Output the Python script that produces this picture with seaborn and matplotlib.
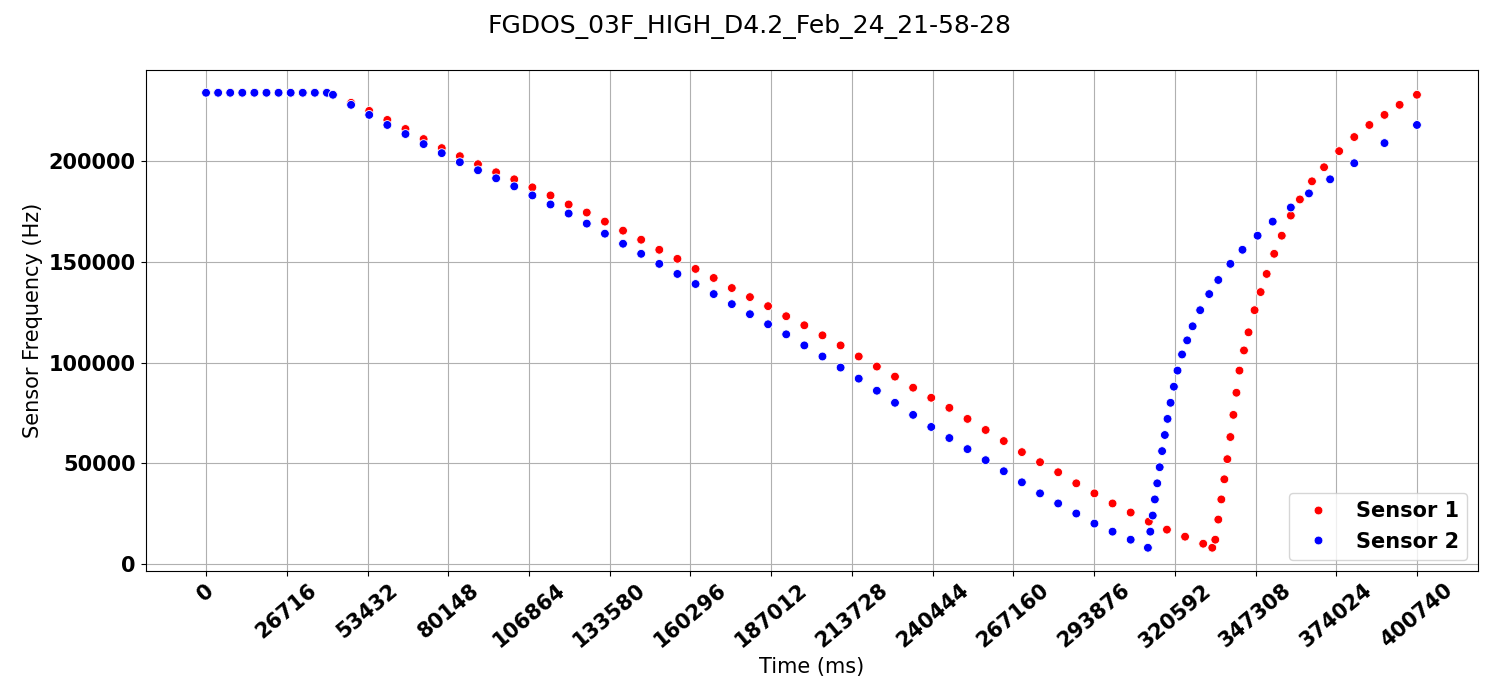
import numpy as np
import pandas as pd
import seaborn as sns
import matplotlib.pyplot as plt

flat_t = [0, 4000, 8000, 12000, 16000, 20000, 24000, 28000, 32000, 36000, 40000]
flat_f = [234000] * len(flat_t)

s1_t = flat_t + [42000, 48000, 54000, 60000, 66000, 72000, 78000, 84000, 90000, 96000,
                 102000, 108000, 114000, 120000, 126000, 132000, 138000, 144000, 150000, 156000,
                 162000, 168000, 174000, 180000, 186000, 192000, 198000, 204000, 210000, 216000,
                 222000, 228000, 234000, 240000, 246000, 252000, 258000, 264000, 270000, 276000,
                 282000, 288000, 294000, 300000, 306000, 312000, 318000, 324000, 330000, 333000,
                 334000, 335000, 336000, 337000, 338000, 339000, 340000, 341000, 342000, 343500,
                 345000, 347000, 349000, 351000, 353500, 356000, 359000, 362000, 366000, 370000,
                 375000, 380000, 385000, 390000, 395000, 400740]
s1_f = flat_f + [233000, 229000, 225000, 220500, 216000, 211000, 206500, 202500, 198500, 194500,
                 191000, 187000, 183000, 178500, 174500, 170000, 165500, 161000, 156000, 151500,
                 146500, 142000, 137000, 132500, 128000, 123000, 118500, 113500, 108500, 103000,
                 98000, 93000, 87500, 82500, 77500, 72000, 66500, 61000, 55500, 50500,
                 45500, 40000, 35000, 30000, 25500, 21000, 17000, 13500, 10000, 8000,
                 12000, 22000, 32000, 42000, 52000, 63000, 74000, 85000, 96000, 106000,
                 115000, 126000, 135000, 144000, 154000, 163000, 173000, 181000, 190000, 197000,
                 205000, 212000, 218000, 223000, 228000, 233000]

s2_t = flat_t + [42000, 48000, 54000, 60000, 66000, 72000, 78000, 84000, 90000, 96000,
                 102000, 108000, 114000, 120000, 126000, 132000, 138000, 144000, 150000, 156000,
                 162000, 168000, 174000, 180000, 186000, 192000, 198000, 204000, 210000, 216000,
                 222000, 228000, 234000, 240000, 246000, 252000, 258000, 264000, 270000, 276000,
                 282000, 288000, 294000, 300000, 306000, 311700,
                 312500, 313300, 314000, 314800, 315600, 316400, 317300, 318200, 319200, 320300,
                 321500, 323000, 324700, 326500, 329000, 332000, 335000, 339000, 343000, 348000,
                 353000, 359000, 365000, 372000, 380000, 390000, 400740]
s2_f = flat_f + [233000, 228000, 223000, 218000, 213500, 208500, 204000, 199500, 195500, 191500,
                 187500, 183000, 178500, 174000, 169000, 164000, 159000, 154000, 149000, 144000,
                 139000, 134000, 129000, 124000, 119000, 114000, 108500, 103000, 97500, 92000,
                 86000, 80000, 74000, 68000, 62500, 57000, 51500, 46000, 40500, 35000,
                 30000, 25000, 20000, 16000, 12000, 8000,
                 16000, 24000, 32000, 40000, 48000, 56000, 64000, 72000, 80000, 88000,
                 96000, 104000, 111000, 118000, 126000, 134000, 141000, 149000, 156000, 163000,
                 170000, 177000, 184000, 191000, 199000, 209000, 218000]

tick_labels = [0, 26716, 53432, 80148, 106864, 133580, 160296, 187012, 213728,
               240444, 267160, 293876, 320592, 347308, 374024, 400740]

df = pd.concat([
    pd.DataFrame({"Time": s1_t, "Freq": s1_f, "Sensor": "Sensor 1"}),
    pd.DataFrame({"Time": s2_t, "Freq": s2_f, "Sensor": "Sensor 2"}),
])

fig, ax = plt.subplots(figsize=(15, 7), dpi=100)
sns.scatterplot(data=df, x="Time", y="Freq", hue="Sensor",
                palette={"Sensor 1": "red", "Sensor 2": "blue"}, s=40,
                edgecolor="white", linewidth=0.6, ax=ax, zorder=3)
ax.grid(True, color="#b0b0b0")
ax.set_axisbelow(True)
ax.set_xticks(tick_labels)
ax.set_xticklabels([str(t) for t in tick_labels], rotation=40, fontsize=15, fontweight="bold")
for lab in ax.get_yticklabels():
    lab.set_fontsize(15)
    lab.set_fontweight("bold")
ax.set_xlabel("Time (ms)", fontsize=15)
ax.set_ylabel("Sensor Frequency (Hz)", fontsize=15)
ax.legend(loc="lower right", prop={"size": 15, "weight": "bold"}, title=None)
fig.suptitle("FGDOS_03F_HIGH_D4.2_Feb_24_21-58-28", fontsize=18)
fig.subplots_adjust(left=0.097, right=0.985, top=0.9, bottom=0.185)
fig.savefig("out.png")
